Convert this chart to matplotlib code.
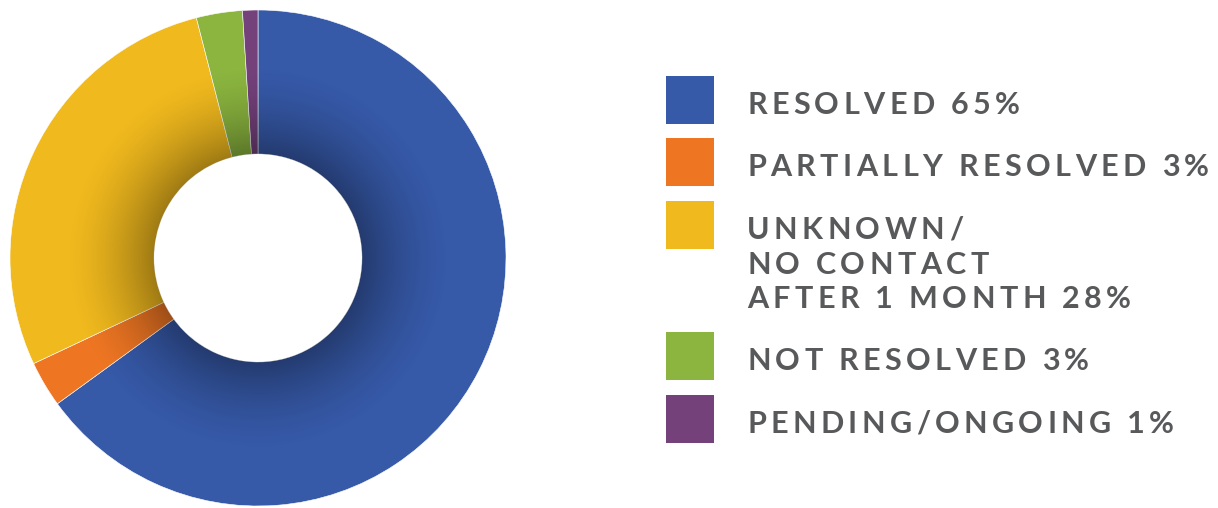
import numpy as np
import matplotlib
matplotlib.use("Agg")
import matplotlib.pyplot as plt
from matplotlib.patches import Rectangle, Wedge
from matplotlib.font_manager import FontProperties

# outcome shares (percent), drawn clockwise from 12 o'clock
labels = [
    ["RESOLVED 65%"],
    ["PARTIALLY RESOLVED 3%"],
    ["UNKNOWN/", "NO CONTACT", "AFTER 1 MONTH 28%"],
    ["NOT RESOLVED 3%"],
    ["PENDING/ONGOING 1%"],
]
shares = [65, 3, 28, 3, 1]
colors = ["#3659A8", "#EE7623", "#F0B91E", "#8BB53F", "#74417B"]
text_color = "#58595B"

W, H = 1218, 508
fig = plt.figure(figsize=(W / 100, H / 100), dpi=100)
ax = fig.add_axes([0, 0, 1, 1])

# donut, in pixel units (y up)
cx, cy = 258, H - 258
r_out, r_in = 248, 104
ax.pie(shares, colors=colors, startangle=90, counterclock=False,
       center=(cx, cy), radius=r_out, frame=True,
       wedgeprops=dict(width=r_out - r_in, edgecolor="white", linewidth=0.4))

# soft inner shadow on the ring
n = 600
g = np.linspace(-r_out, r_out, n)
gx, gy = np.meshgrid(g, g)
rr = np.hypot(gx, gy)
shade = np.zeros((n, n, 4))
shade[..., 3] = 0.34 * np.clip(1 - (rr - r_in) / 90.0, 0, 1) ** 1.6
im = ax.imshow(shade, extent=[cx - r_out, cx + r_out, cy - r_out, cy + r_out],
               origin="lower", interpolation="bilinear", zorder=3)
ring = Wedge((cx, cy), r_out, 0, 360, width=r_out - r_in, transform=ax.transData)
im.set_clip_path(ring)

ax.set_xlim(0, W)
ax.set_ylim(0, H)
ax.set_aspect("equal")
ax.axis("off")

# legend with letter-spaced text
prop = FontProperties(family="Lato", weight="bold", size=22)
renderer = fig.canvas.get_renderer()
track = 4.4


def spaced_text(x, y, s):
    for ch in s:
        ax.text(x, y, ch, fontproperties=prop, color=text_color,
                va="baseline", ha="left")
        w, _, _ = renderer.get_text_width_height_descent(ch, prop, ismath=False)
        x += w + track


swatch_tops = [76, 138, 201, 332, 395]
for top, col, lines in zip(swatch_tops, colors, labels):
    ax.add_patch(Rectangle((666, H - top - 48), 48, 48, color=col, lw=0))
    for k, line in enumerate(lines):
        spaced_text(747, H - (top + 38 + k * 34.5), line)

fig.savefig("out.png", dpi=100)
